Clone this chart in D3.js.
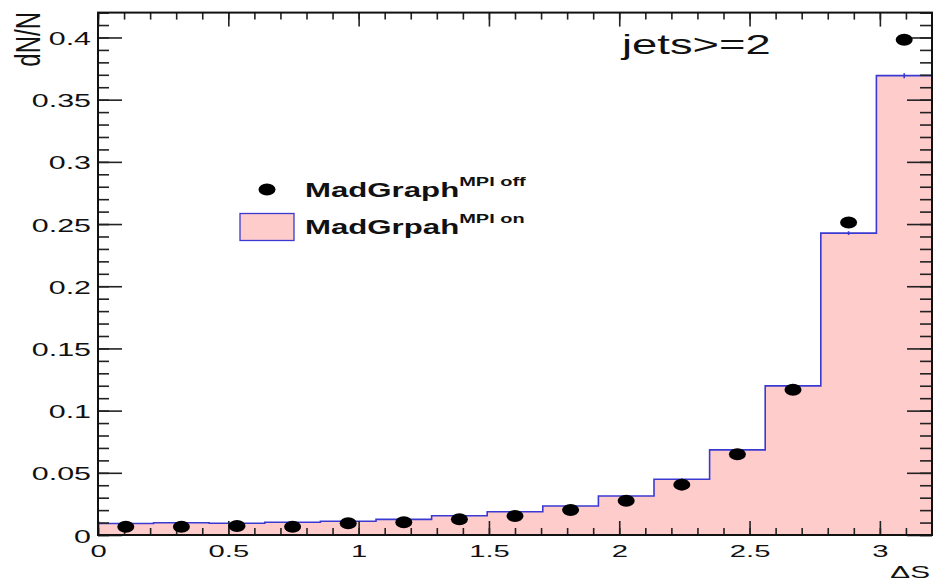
<!DOCTYPE html>
<html>
<head>
<meta charset="utf-8">
<script src="https://cdn.jsdelivr.net/npm/d3@7"></script>
<style>
  html, body { margin: 0; padding: 0; background: #fff; }
  svg { display: block; }
  text { font-family: "Liberation Sans", Arial, Helvetica, sans-serif; fill: #111; }
</style>
</head>
<body>
<svg id="chart" width="933" height="582"></svg>
<script>
// =========================
// DADES
// =========================

const xMax = 3.2;
const nBins = 15;

// MadGrpah MPI on (histograma)
const mpiOn = [0.0093, 0.0099, 0.0094, 0.0102, 0.0110, 0.0126, 0.0155, 0.0187,
               0.0233, 0.0314, 0.0448, 0.0684, 0.1199, 0.2427, 0.3693];
const mpiOnErr = [0.0003, 0.0003, 0.0003, 0.0003, 0.0003, 0.0003, 0.0004, 0.0004,
                  0.0005, 0.0005, 0.0006, 0.0008, 0.0010, 0.0015, 0.0020];

// MadGraph MPI off (punts)
const mpiOff = [0.0067, 0.0067, 0.0072, 0.0067, 0.0094, 0.0102, 0.0126, 0.0153,
                0.0201, 0.0276, 0.0405, 0.0649, 0.1167, 0.2513, 0.3982];

const xTicks = [0, 0.5, 1, 1.5, 2, 2.5, 3];
const xTickLabels = ["0", "0.5", "1", "1.5", "2", "2.5", "3"];
const yTicks = [0, 0.05, 0.1, 0.15, 0.2, 0.25, 0.3, 0.35, 0.4];
const yTickLabels = ["0", "0.05", "0.1", "0.15", "0.2", "0.25", "0.3", "0.35", "0.4"];


// =========================
// ESCALES
// =========================

const frame = { left: 98, right: 932, top: 12.6, bottom: 535 };

const svg = d3.select("#chart");

const x = d3.scaleLinear().domain([0, xMax]).range([frame.left, frame.right]);
const y = d3.scaleLinear().domain([0, 0.42]).range([frame.bottom, frame.top]);

const binW = xMax / nBins;
const bins = mpiOn.map((v, i) => ({ lo: i * binW, c: (i + 0.5) * binW, on: v, err: mpiOnErr[i], off: mpiOff[i] }));

const fillColor = "#ffcccc";
const lineColor = "#3a3ad2";
const textScale = 1.62;


// =========================
// HISTOGRAMA
// =========================

const stepPts = bins.map(d => [d.lo, d.on]).concat([[xMax, mpiOn[nBins - 1]]]);

svg.append("path")
  .datum(stepPts)
  .attr("d", d3.area().curve(d3.curveStepAfter)
    .x(d => x(d[0])).y0(y(0)).y1(d => y(d[1])))
  .attr("fill", fillColor);

svg.append("path")
  .datum(stepPts)
  .attr("d", d3.line().curve(d3.curveStepAfter)
    .x(d => x(d[0])).y(d => y(d[1])))
  .attr("fill", "none")
  .attr("stroke", lineColor)
  .attr("stroke-width", 1.6);

// errors
svg.selectAll(".err")
  .data(bins)
  .enter()
  .append("line")
  .attr("class", "err")
  .attr("x1", d => x(d.c)).attr("x2", d => x(d.c))
  .attr("y1", d => y(d.on - d.err)).attr("y2", d => y(d.on + d.err))
  .attr("stroke", lineColor)
  .attr("stroke-width", 1.6);


// =========================
// EIXOS
// =========================

function minorRange(max, step) {
  return d3.range(0, max + step / 2, step);
}

const xMinor = minorRange(xMax, 0.1);
const yMinor = minorRange(0.42, 0.01);

function styleAxis(g) {
  g.select(".domain").remove();
  g.selectAll(".tick line").attr("stroke", "#222").attr("stroke-width", 1.6);
}

// bottom
svg.append("g")
  .attr("transform", `translate(0,${frame.bottom})`)
  .call(d3.axisBottom(x).tickValues(xMinor).tickSize(-7).tickFormat(""))
  .call(styleAxis);

const xAxisG = svg.append("g")
  .attr("transform", `translate(0,${frame.bottom})`)
  .call(d3.axisBottom(x).tickValues(xTicks).tickSize(-14)
    .tickFormat((d, i) => xTickLabels[i]))
  .call(styleAxis);

xAxisG.selectAll(".tick text")
  .attr("y", 22).attr("dy", 0)
  .attr("transform", "scale(1.72,1)")
  .style("font-size", "17px")
  .style("fill", "#111");

// top
svg.append("g")
  .attr("transform", `translate(0,${frame.top})`)
  .call(d3.axisTop(x).tickValues(xMinor).tickSize(-7).tickFormat(""))
  .call(styleAxis);
svg.append("g")
  .attr("transform", `translate(0,${frame.top})`)
  .call(d3.axisTop(x).tickValues(xTicks).tickSize(-14).tickFormat(""))
  .call(styleAxis);

// left
svg.append("g")
  .attr("transform", `translate(${frame.left},0)`)
  .call(d3.axisLeft(y).tickValues(yMinor).tickSize(-11).tickFormat(""))
  .call(styleAxis);

const yAxisG = svg.append("g")
  .attr("transform", `translate(${frame.left},0)`)
  .call(d3.axisLeft(y).tickValues(yTicks).tickSize(-24)
    .tickFormat((d, i) => yTickLabels[i]))
  .call(styleAxis);

yAxisG.selectAll(".tick text")
  .attr("x", -7 / 1.69).attr("dy", 0).attr("y", 7)
  .attr("text-anchor", "end")
  .attr("transform", "scale(1.69,1)")
  .style("font-size", "18px")
  .style("fill", "#111");

// right
svg.append("g")
  .attr("transform", `translate(${frame.right},0)`)
  .call(d3.axisRight(y).tickValues(yMinor).tickSize(-12).tickFormat(""))
  .call(styleAxis);
svg.append("g")
  .attr("transform", `translate(${frame.right},0)`)
  .call(d3.axisRight(y).tickValues(yTicks).tickSize(-25).tickFormat(""))
  .call(styleAxis);


// =========================
// PUNTS
// =========================

svg.selectAll(".dot")
  .data(bins)
  .enter()
  .append("ellipse")
  .attr("class", "dot")
  .attr("cx", d => x(d.c))
  .attr("cy", d => y(d.off))
  .attr("rx", 8.5)
  .attr("ry", 6)
  .attr("fill", "#000");


// =========================
// MARC
// =========================

svg.append("rect")
  .attr("x", frame.left)
  .attr("y", frame.top)
  .attr("width", frame.right - frame.left)
  .attr("height", frame.bottom - frame.top)
  .attr("fill", "none")
  .attr("stroke", "#111")
  .attr("stroke-width", 2);


// =========================
// TEXTOS
// =========================

function stretchedText(px, py, sx, size, str, anchor = "start", weight = "normal", rotate = 0) {
  const g = svg.append("g")
    .attr("transform", `translate(${px},${py}) scale(${sx},1)` + (rotate ? ` rotate(${rotate})` : ""));
  return g.append("text")
    .attr("text-anchor", anchor)
    .style("font-size", size + "px")
    .style("font-weight", weight)
    .text(str);
}

stretchedText(40, 12, 1.45, 24, "dN/N", "end", "normal", -90);
stretchedText(930, 578, 1.75, 17, "ΔS", "end");
stretchedText(622, 54, textScale, 28, "jets>=2");


// =========================
// LLEGENDA
// =========================

svg.append("ellipse")
  .attr("cx", 267).attr("cy", 189.5)
  .attr("rx", 8.5).attr("ry", 6)
  .attr("fill", "#000");

svg.append("rect")
  .attr("x", 240).attr("y", 213.5)
  .attr("width", 54).attr("height", 27)
  .attr("fill", fillColor)
  .attr("stroke", lineColor)
  .attr("stroke-width", 1.3);

function legendEntry(py, main, sup) {
  const t = stretchedText(305, py, 1.6, 19.5, null, "start", "bold");
  t.append("tspan").text(main);
  t.append("tspan")
    .attr("dx", 0).attr("dy", -11.5)
    .style("font-size", "12.5px")
    .text(sup);
}

legendEntry(197.3, "MadGraph", "MPI off");
legendEntry(234, "MadGrpah", "MPI on");
</script>
</body>
</html>
